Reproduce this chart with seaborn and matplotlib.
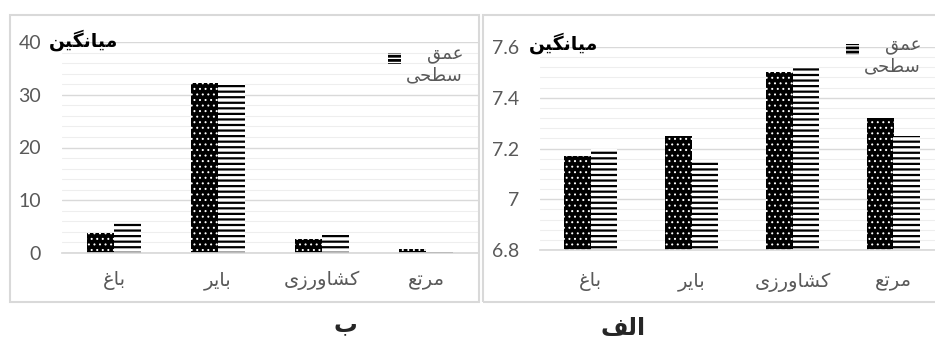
import numpy as np
import pandas as pd
import matplotlib
matplotlib.use('Agg')
import matplotlib.pyplot as plt
from matplotlib.patches import Rectangle, Patch
from matplotlib.legend_handler import HandlerPatch
import seaborn as sns

# Data
categories = ['باغ', 'بایر', 'کشاورزی', 'مرتع']
series_names = ['Series 1', 'Series 2']          # dotted, lined
legend_label = 'عمق\nسطحی'
panel_b_dotted = [3.8, 32.3, 2.6, 0.7]
panel_b_lined = [5.7, 32.0, 3.4, 0.15]
panel_a_dotted = [7.17, 7.25, 7.50, 7.32]
panel_a_lined = [7.20, 7.15, 7.53, 7.25]
ylabel_text = 'میانگین'
panel_b_title = 'ب'
panel_a_title = 'الف'

# matplotlib has no Arabic shaping, so map letters to presentation forms
BASE = {'ا': 0xFE8D, 'ب': 0xFE8F, 'ت': 0xFE95, 'ح': 0xFEA1, 'ر': 0xFEAD,
        'ز': 0xFEAF, 'س': 0xFEB1, 'ش': 0xFEB5, 'ط': 0xFEC1, 'ع': 0xFEC9,
        'غ': 0xFECD, 'ف': 0xFED1, 'ق': 0xFED5, 'ل': 0xFEDD, 'م': 0xFEE1,
        'ن': 0xFEE5, 'و': 0xFEED, 'ک': 0xFB8E, 'گ': 0xFB92, 'ی': 0xFBFC}
RIGHT_ONLY = set('اورزد')


def shape_line(text):
    out = []
    for i, c in enumerate(text):
        if c not in BASE:
            out.append(c)
            continue
        prev = text[i - 1] if i > 0 else ''
        nxt = text[i + 1] if i + 1 < len(text) else ''
        j_prev = prev in BASE and prev not in RIGHT_ONLY
        j_next = nxt in BASE and c not in RIGHT_ONLY
        if j_prev and j_next:
            off = 3
        elif j_prev:
            off = 1
        elif j_next:
            off = 2
        else:
            off = 0
        out.append(chr(BASE[c] + off))
    return ''.join(reversed(out))


def shape(text):
    return '\n'.join(shape_line(l) for l in text.split('\n'))


def top_swatch(legend, orig_handle, xdescent, ydescent, width, height, fontsize):
    r = Rectangle((-xdescent, -ydescent + height * 0.6), width, height * 0.34)
    return r


def set_hatch_lw(patch, lw):
    if hasattr(patch, 'set_hatch_linewidth'):
        patch.set_hatch_linewidth(lw)
    else:
        patch._hatch_linewidth = lw


sns.set_theme(style='white')
plt.rcParams['font.family'] = ['Lato', 'DejaVu Sans']
plt.rcParams['hatch.linewidth'] = 1.6

W, H = 935, 347
fig = plt.figure(figsize=(W / 100, H / 100), dpi=100)

GRAY_TXT = '#595959'
ARABIC = 'DejaVu Sans'


def draw_panel(rect, dotted, lined, ylim, major, minor, xpad, leg_anchor, ylab_xy):
    ax = fig.add_axes(rect)
    df = pd.DataFrame({
        'category': categories * 2,
        'series': [series_names[0]] * 4 + [series_names[1]] * 4,
        'value': dotted + lined,
    })
    sns.barplot(data=df, x='category', y='value', hue='series', order=categories,
                hue_order=series_names, palette=['black', 'white'], saturation=1,
                width=0.52, gap=0, linewidth=0, legend=False, ax=ax)
    for bar in ax.containers[0].patches:
        bar.set_hatch('...')
        bar.set_edgecolor('white')
        set_hatch_lw(bar, 0.7)
    for bar in ax.containers[1].patches:
        bar.set_hatch('---')
        bar.set_edgecolor('black')
        bar.set_facecolor('white')
        set_hatch_lw(bar, 1.6)

    ax.set_ylim(*ylim)
    ax.set_xlim(-0.5, 3.5)
    ax.set_yticks(np.arange(ylim[0], ylim[1] + major / 2, major))
    ax.set_yticks(np.arange(ylim[0], ylim[1] + minor / 2, minor), minor=True)
    ax.yaxis.set_major_formatter(matplotlib.ticker.FuncFormatter(lambda v, p: f'{v:g}'))
    ax.grid(axis='y', which='major', color='#d9d9d9', lw=1)
    ax.grid(axis='y', which='minor', color='#eeeeee', lw=0.8)
    ax.set_axisbelow(True)
    for s in ['top', 'left', 'right']:
        ax.spines[s].set_visible(False)
    ax.spines['bottom'].set_color('#d9d9d9')
    ax.tick_params(axis='y', which='both', length=0, pad=15, labelsize=14, labelcolor=GRAY_TXT)
    ax.tick_params(axis='x', length=0, pad=xpad, labelsize=14, labelcolor=GRAY_TXT)
    ax.set_xticks(range(len(categories)))
    ax.set_xticklabels([shape(c) for c in categories], family=ARABIC)
    ax.set_xlabel('')
    ax.set_ylabel('')

    leg_handle = Patch(facecolor='white', edgecolor='black', hatch='----', lw=0)
    set_hatch_lw(leg_handle, 2.0)
    leg = ax.legend([leg_handle], [shape(legend_label)], loc='upper right',
                    bbox_to_anchor=(leg_anchor[0] / W, 1 - leg_anchor[1] / H),
                    bbox_transform=fig.transFigure, frameon=False,
                    handlelength=0.7, handleheight=2.2, handletextpad=0.3,
                    borderpad=0, borderaxespad=0,
                    prop={'family': ARABIC, 'size': 13},
                    handler_map={leg_handle: HandlerPatch(patch_func=top_swatch)})
    for t in leg.get_texts():
        t.set_color(GRAY_TXT)
        t.set_multialignment('right')
    for p in leg.get_patches():
        set_hatch_lw(p, 2.0)
        p.set_linewidth(0)

    fig.text(ylab_xy[0] / W, 1 - ylab_xy[1] / H, shape(ylabel_text), family=ARABIC,
             fontsize=13.5, fontweight='bold', ha='left', va='center', color='black')
    return ax


# left panel (ب)
draw_panel([62 / W, 1 - 253 / H, 416 / W, 211 / H], panel_b_dotted, panel_b_lined,
           (0, 40), 10, 2, 13, (463, 46), (49, 40))
# right panel (الف)
draw_panel([540 / W, 1 - 250 / H, 404 / W, 203 / H], panel_a_dotted, panel_a_lined,
           (6.8, 7.6), 0.2, 0.04, 16, (921, 37), (529, 43))

# chart-area borders
for x0, x1 in [(10, 479), (483, 950)]:
    fig.add_artist(Rectangle((x0 / W, 1 - 302 / H), (x1 - x0) / W, 287 / H,
                             transform=fig.transFigure, fill=False,
                             edgecolor='#d9d9d9', lw=1.5))

fig.text(345 / W, 1 - 324 / H, shape(panel_b_title), family=ARABIC, fontsize=17,
         fontweight='bold', ha='center', va='center')
fig.text(623 / W, 1 - 328 / H, shape(panel_a_title), family=ARABIC, fontsize=17,
         fontweight='bold', ha='center', va='center')

fig.savefig('out.png', dpi=100)
